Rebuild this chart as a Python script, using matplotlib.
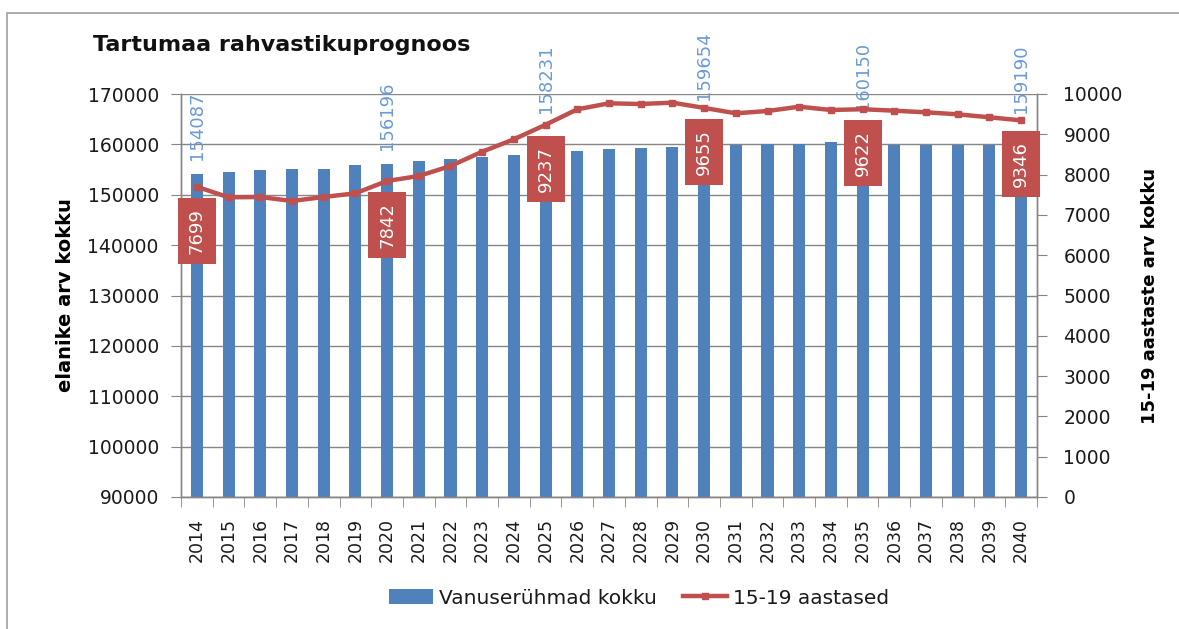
import matplotlib
matplotlib.use("Agg")
import matplotlib.pyplot as plt
from matplotlib.patches import Rectangle, Patch
from matplotlib.lines import Line2D
import numpy as np

years = [str(y) for y in range(2014, 2041)]
total_pop = [154087, 154440, 154830, 155160, 155170, 155960, 156196, 156750, 157090,
             157480, 157810, 158231, 158610, 159000, 159340, 159400, 159654, 159880,
             160080, 160090, 160560, 160150, 159900, 159900, 159900, 159900, 159190]
teens = [7699, 7436, 7444, 7345, 7444, 7536, 7842, 7965, 8213, 8568, 8876, 9237,
         9620, 9769, 9752, 9785, 9655, 9521, 9578, 9685, 9603, 9622, 9586, 9545,
         9496, 9422, 9346]
label_years = ["2014", "2020", "2025", "2030", "2035", "2040"]
# vertical gap (pixels) between bar top and its value label
label_gaps = [14, 14, 40, 46, 34, 35]

plt.rcParams['font.family'] = ['DejaVu Sans']

W, H = 1179, 629
fig = plt.figure(figsize=(W / 100, H / 100), dpi=100)
ax = fig.add_axes([181 / W, 1 - 497 / H, (1037 - 181) / W, (497 - 94) / H])
ax2 = ax.twinx()

blue = '#4f81bd'
red = '#c0504d'
grid = '#868686'
lblue = '#6a9ad6'
txt = '#1a1a1a'

x = np.arange(len(years))
ax.bar(x, total_pop, width=0.38, color=blue, zorder=2)
ax.set_ylim(90000, 170000)
ax.set_yticks(np.arange(90000, 170001, 10000))
ax.set_xlim(-0.5, len(years) - 0.5)
ax.yaxis.grid(True, color=grid, lw=1, zorder=0)
ax.set_axisbelow(True)

ax2.plot(x, teens, color=red, lw=3.2, marker='s', ms=4, zorder=3)
ax2.set_ylim(0, 10000)
ax2.set_yticks(np.arange(0, 10001, 1000))

for a in (ax, ax2):
    a.spines['top'].set_visible(False)
    for s in ('left', 'right', 'bottom'):
        a.spines[s].set_color(grid)
        a.spines[s].set_linewidth(1)

ax.set_xticks(x)
ax.set_xticklabels(years, rotation=90, fontsize=12.5, color=txt)
ax.set_xticks(np.arange(-0.5, len(years), 1), minor=True)
ax.tick_params(axis='x', which='major', length=0, pad=15)
ax.tick_params(axis='x', which='minor', length=7, color=grid)
ax.tick_params(axis='y', length=7, color=grid, labelsize=13.5, labelcolor=txt, pad=9)
ax2.tick_params(axis='y', length=7, color=grid, labelsize=13.5, labelcolor=txt, pad=12)

ax.set_ylabel('elanike arv kokku', fontsize=14, fontweight='bold', labelpad=9)
ax2.set_ylabel('15-19 aastaste arv kokku', fontsize=13, fontweight='bold', labelpad=13)

k = 0
for i, y in enumerate(years):
    if y in label_years:
        ax.annotate(f'{total_pop[i]}', (i, total_pop[i]), xytext=(0, label_gaps[k]),
                    textcoords='offset pixels', rotation=90, ha='center', va='bottom',
                    color=lblue, fontsize=13, zorder=4)
        ax2.annotate(f'{teens[i]}', (i, teens[i]), xytext=(0, -21),
                     textcoords='offset pixels', rotation=90, ha='center', va='top',
                     color='white', fontsize=13, zorder=5,
                     bbox=dict(boxstyle='square,pad=0.55', fc=red, ec='none'))
        k += 1

fig.text(93 / W, 1 - 45 / H, 'Tartumaa rahvastikuprognoos', fontsize=16,
         fontweight='bold', ha='left', va='center', color='#111111')

handles = [Patch(facecolor=blue), Line2D([], [], color=red, lw=3.2, marker='s', ms=4)]
fig.legend(handles, ['Vanuserühmad kokku', '15-19 aastased'], loc='center',
           bbox_to_anchor=(0.542, 1 - 598 / H), ncol=2, frameon=False, fontsize=14.5,
           handlelength=2.2, handleheight=0.8, columnspacing=1.3, handletextpad=0.3,
           labelcolor=txt)

fig.patches.append(Rectangle((7 / W, -0.1), 1.2, 1.1 - 13 / H, transform=fig.transFigure,
                             fill=False, ec='#a0a0a0', lw=1.2))

fig.savefig('out.png', dpi=100)
